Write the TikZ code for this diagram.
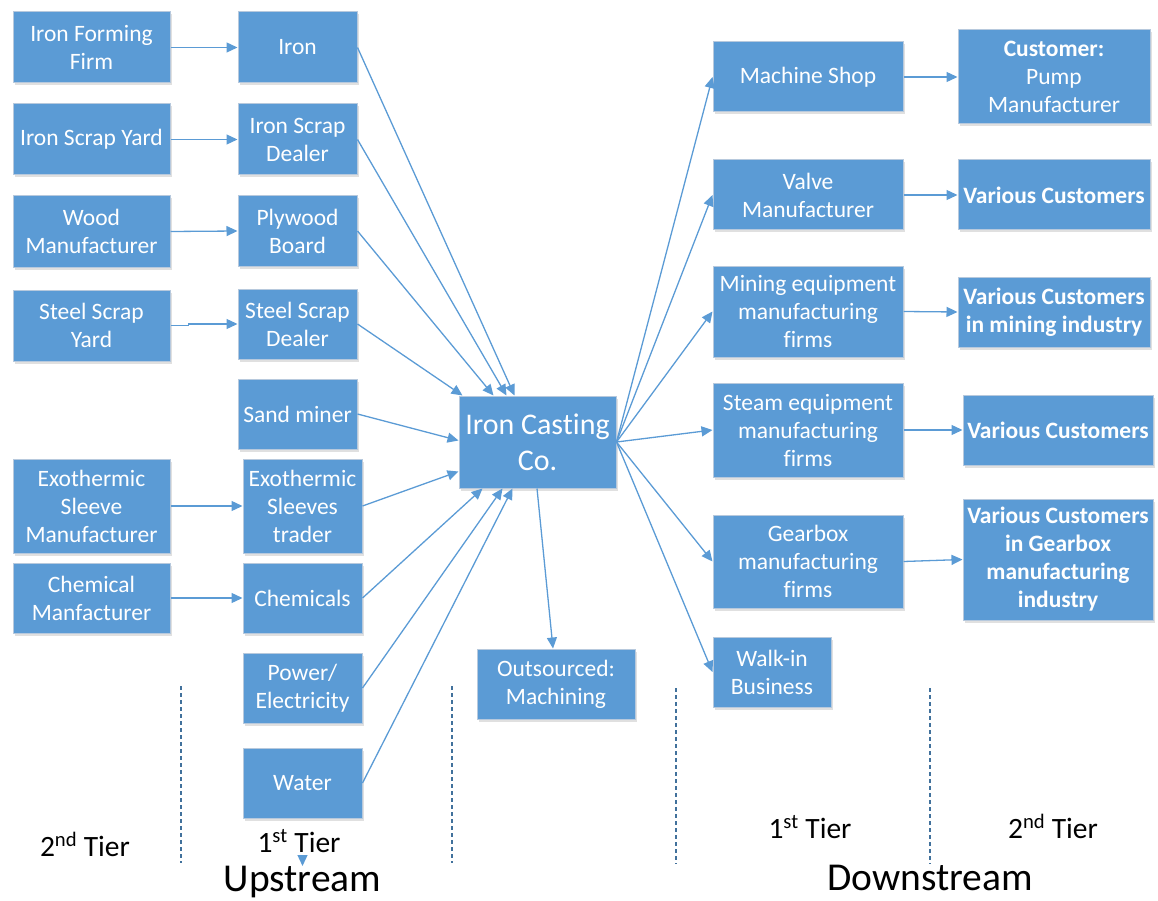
\documentclass[tikz,border=0pt]{standalone}
\usepackage{fontspec}
\setmainfont{Carlito}[Ligatures={NoCommon}]
\usetikzlibrary{arrows.meta,shadows}

\definecolor{boxblue}{HTML}{5B9BD5}
\definecolor{boxline}{HTML}{B7C9DD}
\definecolor{flowblue}{HTML}{5B9BD5}
\definecolor{divblue}{HTML}{41719C}

\tikzset{
  box/.style={draw=boxline, line width=1pt, fill=boxblue, text=white,
    inner sep=1pt, align=center,
    font=\fontsize{23.5}{28}\selectfont,
    drop shadow={shadow xshift=1.5pt, shadow yshift=-2.5pt, opacity=.12, fill=black}},
  wh/.style 2 args={minimum width=#1pt, minimum height=#2pt},
  flow/.style={draw=flowblue, line width=1.3pt,
    -{Triangle[length=11pt,width=10pt]}},
  divider/.style={draw=divblue, line width=1.1pt, dash pattern=on 4pt off 3pt},
  tier/.style={anchor=base, font=\fontsize{29.5}{30}\selectfont},
  stream/.style={anchor=base, inner sep=0pt, font=\fontsize{39.5}{40}\selectfont}
}

\begin{document}
\begin{tikzpicture}[x=1pt, y=-1pt]
\useasboundingbox (0,0) rectangle (1158,901);

% upstream, second tier
\node[box, wh={157}{71}] (ifm) at (91.5,47.5) {Iron Forming\\Firm};
\node[box, wh={157}{71}] (isy) at (91.5,139.5) {Iron Scrap Yard};
\node[box, wh={157}{71}] (wm)  at (91.5,231.5) {Wood\\Manufacturer};
\node[box, wh={157}{71}] (ssy) at (91.5,325.5) {Steel Scrap\\Yard};
\node[box, wh={157}{94}] (esm) at (91.5,506) {Exothermic\\Sleeve\\Manufacturer};
\node[box, wh={157}{70}] (cm)  at (91.5,598) {Chemical\\Manfacturer};

% upstream, first tier
\node[box, wh={119}{71}] (iron)  at (297.5,47.5) {Iron};
\node[box, wh={119}{71}] (isd)   at (297.5,139.5) {Iron Scrap\\Dealer};
\node[box, wh={119}{70}] (pb)    at (297.5,231) {Plywood\\Board};
\node[box, wh={119}{70}] (ssd)   at (297.5,324) {Steel Scrap\\Dealer};
\node[box, wh={119}{70}] (sand)  at (297.5,414) {Sand miner};
\node[box, wh={119}{94}] (est)   at (302.5,506) {Exothermic\\Sleeves\\trader};
\node[box, wh={119}{70}] (chem)  at (302.5,598) {Chemicals};
\node[box, wh={119}{70}] (power) at (302.5,688) {Power/\\Electricity};
\node[box, wh={119}{70}] (water) at (302.5,783) {Water};

% focal firm and outsourcing
\node[box, wh={157}{92}, font=\fontsize{30}{36}\selectfont] (ics) at (537.5,442) {Iron Casting\\Co.};
\node[box, wh={158}{70}] (out) at (556,684) {Outsourced:\\Machining};

% downstream, first tier
\node[box, wh={190}{70}] (ms) at (808,77) {Machine Shop};
\node[box, wh={190}{70}] (vm) at (808,195) {Valve\\Manufacturer};
\node[box, wh={190}{91}] (me) at (808,311.5) {Mining equipment\\manufacturing\\firms};
\node[box, wh={190}{94}] (se) at (808,430) {Steam equipment\\manufacturing\\firms};
\node[box, wh={190}{93}] (gb) at (808,561.5) {Gearbox\\manufacturing\\firms};
\node[box, wh={118}{70}] (wi) at (772,672) {Walk-in\\Business};

% downstream, second tier
\node[box, wh={192}{94}] (cpm) at (1054,77) {\textbf{Customer:}\\Pump\\Manufacturer};
\node[box, wh={192}{70}, font=\fontsize{23.5}{28}\selectfont\bfseries] (vc1) at (1054,195) {Various Customers};
\node[box, wh={192}{70}, font=\fontsize{23.5}{28}\selectfont\bfseries] (vcm) at (1054,312) {Various Customers\\in mining industry};
\node[box, wh={190}{70}, font=\fontsize{23.5}{28}\selectfont\bfseries] (vc2) at (1058,430) {Various Customers};
\node[box, wh={190}{121}, font=\fontsize{23.5}{28}\selectfont\bfseries] (vcg) at (1058,559.5) {Various Customers\\in Gearbox\\manufacturing\\industry};

% second tier to first tier (upstream)
\draw[flow] (ifm.east) -- (iron.west);
\draw[flow] (isy.east) -- (isd.west);
\draw[flow] (wm.east) -- (pb.west);
\draw[flow] (ssy.east) -- ++(18,0) |- (ssd.west);
\draw[flow] (esm.east) -- (est.west);
\draw[flow] (cm.east) -- (chem.west);

% suppliers into the foundry
\draw[flow] (iron.east)  -- ([xshift=56pt]ics.north west);
\draw[flow] (isd.east)   -- ([xshift=48pt]ics.north west);
\draw[flow] (pb.east)    -- ([xshift=35pt]ics.north west);
\draw[flow] (ssd.east)   -- ([xshift=4pt]ics.north west);
\draw[flow] (sand.east)  -- ([yshift=-45pt]ics.north west);
\draw[flow] (est.east)   -- ([yshift=-76pt]ics.north west);
\draw[flow] (chem.east)  -- ([xshift=24pt]ics.south west);
\draw[flow] (power.east) -- ([xshift=44pt]ics.south west);
\draw[flow] (water.east) -- ([xshift=54pt]ics.south west);

% foundry to customers
\draw[flow] (ics.east) -- (ms.west);
\draw[flow] (ics.east) -- (vm.west);
\draw[flow] (ics.east) -- (me.west);
\draw[flow] (ics.east) -- (se.west);
\draw[flow] (ics.east) -- (gb.west);
\draw[flow] (ics.east) -- (wi.west);
\draw[flow] ([xshift=-0.5pt]ics.south) -- ([xshift=-3pt]out.north);

% first tier to second tier (downstream)
\draw[flow] (ms.east) -- (cpm.west);
\draw[flow] (vm.east) -- (vc1.west);
\draw[flow] (me.east) -- (vcm.west);
\draw[flow] (se.east) -- (vc2.west);
\draw[flow] (gb.east) -- (vcg.west);

% tier dividers
\draw[divider] (181,686) -- (181,863);
\draw[divider] (452,686) -- (452,863);
\draw[divider] (676,688) -- (676,864);
\draw[divider] (930,688) -- (930,864);

% tier and stream labels
\node[tier] (ut2) at (85,856) {2\textsuperscript{nd} Tier};
\node[tier] (ut1) at (299,852) {1\textsuperscript{st} Tier};
\node[tier] (dt1) at (810,838) {1\textsuperscript{st} Tier};
\node[tier] (dt2) at (1053,838) {2\textsuperscript{nd} Tier};
\node[stream] (up) at (302.5,891) {Upstream};
\node[stream] (down) at (930,890) {Downstream};

% small marker below the upstream first-tier label
\coordinate (ma) at (302.5,855);
\coordinate (mb) at (302.5,866);
\draw[flow] (ma) -- (mb);
\end{tikzpicture}
\end{document}
